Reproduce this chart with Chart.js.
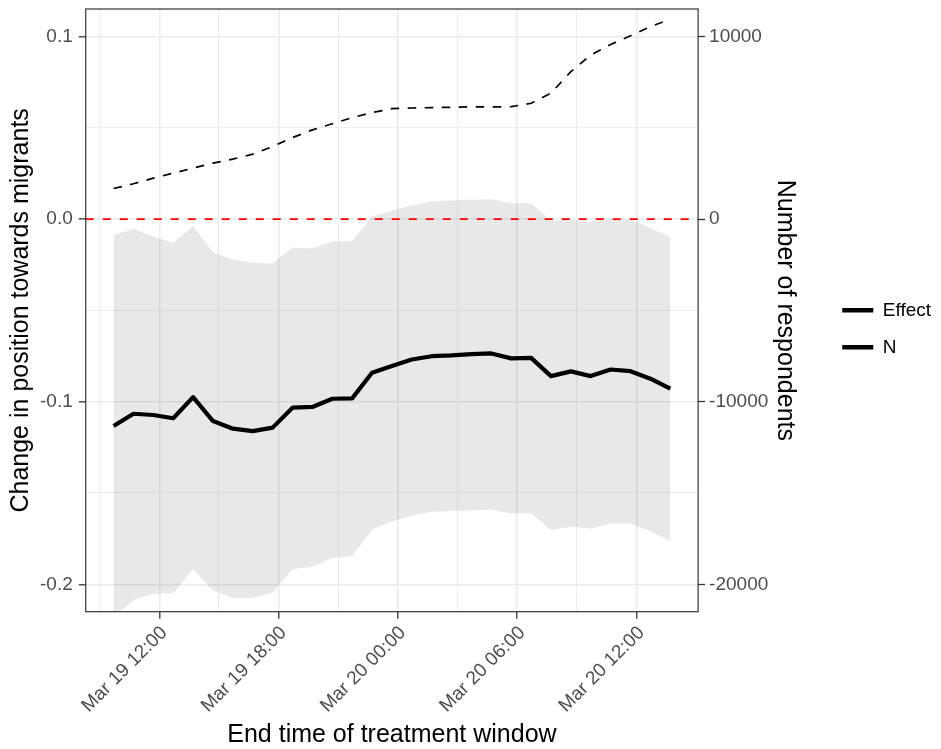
<!DOCTYPE html>
<html>
<head>
<meta charset="utf-8">
<script src="https://cdn.jsdelivr.net/npm/chart.js@4.4.0/dist/chart.umd.min.js"></script>
<style>
  html, body { margin: 0; padding: 0; background: #fff; }
</style>
</head>
<body>
<canvas id="myChart" width="941" height="749"></canvas>
<script>
// hours since Mar 19 00:00 (end of each treatment window)
const hours = [9.7, 10.7, 11.7, 12.7, 13.7, 14.7, 15.7, 16.7, 17.7, 18.7,
  19.7, 20.7, 21.7, 22.7, 23.7, 24.7, 25.7, 26.7, 27.7, 28.7,
  29.7, 30.7, 31.7, 32.7, 33.7, 34.7, 35.7, 36.7, 37.7];

const effect = [-0.1133, -0.1066, -0.1073, -0.1091, -0.0975, -0.1106, -0.1148, -0.1161, -0.1142, -0.1033,
  -0.1029, -0.0984, -0.0982, -0.0842, -0.0805, -0.0769, -0.0751, -0.0747, -0.0740, -0.0736,
  -0.0763, -0.0760, -0.0860, -0.0834, -0.0860, -0.0824, -0.0833, -0.0874, -0.0929];

const upper = [-0.0087, -0.0055, -0.0095, -0.0131, -0.0040, -0.0182, -0.0222, -0.0240, -0.0243, -0.0157,
  -0.0160, -0.0122, -0.0122, 0.0014, 0.0047, 0.0074, 0.0098, 0.0102, 0.0105, 0.0109,
  0.0087, 0.0087, -0.0009, -0.0004, -0.0015, 0.0000, -0.0004, -0.0049, -0.0098];

const lower = [-0.2179, -0.2086, -0.2051, -0.2049, -0.1918, -0.2035, -0.2075, -0.2075, -0.2046, -0.1918,
  -0.1904, -0.1856, -0.1847, -0.1700, -0.1656, -0.1625, -0.1603, -0.1599, -0.1596, -0.1590,
  -0.1612, -0.1610, -0.1702, -0.1683, -0.1696, -0.1667, -0.1669, -0.1710, -0.1763];

const respondents = [1670, 1930, 2240, 2510, 2790, 3060, 3280, 3550, 3970, 4460,
  4880, 5220, 5550, 5830, 6040, 6080, 6100, 6120, 6140, 6140,
  6150, 6340, 6890, 8070, 8980, 9560, 10030, 10530, 10950];

const refLine = 0;

const xMin = 8.3, xMax = 39.1;
const xTickHours = [12, 18, 24, 30, 36];
const xTickLabels = ['Mar 19 12:00', 'Mar 19 18:00', 'Mar 20 00:00', 'Mar 20 06:00', 'Mar 20 12:00'];
const xMinorHours = [9, 15, 21, 27, 33];

const yMin = -0.215, yMax = 0.115;
const yTicks = [-0.2, -0.1, 0, 0.1];
const yTickLabels = ['-0.2', '-0.1', '0.0', '0.1'];
const yMinor = [-0.15, -0.05, 0.05];

const nScale = 100000;
const nTicks = [-20000, -10000, 0, 10000];
const nTickLabels = ['-20000', '-10000', '0', '10000'];

const legendNames = ['Effect', 'N'];

const FONT = "'Liberation Sans', Arial, Helvetica, sans-serif";
const TICK_COLOR = '#4D4D4D';
const AXIS_COLOR = '#333333';
const GRID_COLOR = '#EBEBEB';

Chart.defaults.font.family = FONT;

const pts = (arr) => hours.map((h, i) => ({ x: h, y: arr[i] }));

const isMajor = (list, v) => list.some(t => Math.abs(t - v) < 1e-6);

const panelBorder = {
  id: 'panelBorder',
  afterDatasetsDraw(chart) {
    const { ctx, chartArea: a } = chart;
    ctx.save();
    ctx.strokeStyle = AXIS_COLOR;
    ctx.lineWidth = 1.2;
    ctx.strokeRect(a.left, a.top, a.right - a.left, a.bottom - a.top);
    ctx.restore();
  }
};

const ctx = document.getElementById('myChart').getContext('2d');
const myChart = new Chart(ctx, {
  type: 'line',
  data: {
    datasets: [
      {
        label: 'lower',
        data: pts(lower),
        borderWidth: 0,
        borderColor: 'rgba(0,0,0,0)',
        pointRadius: 0,
        fill: false,
        order: 5
      },
      {
        label: 'upper',
        data: pts(upper),
        borderWidth: 0,
        borderColor: 'rgba(0,0,0,0)',
        backgroundColor: 'rgba(0,0,0,0.09)',
        pointRadius: 0,
        fill: '-1',
        order: 4
      },
      {
        label: 'zero',
        data: [{ x: xMin, y: refLine }, { x: xMax, y: refLine }],
        borderColor: '#FF0000',
        borderWidth: 1.8,
        borderDash: [8, 9],
        pointRadius: 0,
        order: 3
      },
      {
        label: 'N',
        data: pts(respondents),
        yAxisID: 'y2',
        borderColor: '#000',
        borderWidth: 1.7,
        borderDash: [8.5, 8.5],
        pointRadius: 0,
        order: 2
      },
      {
        label: 'Effect',
        data: pts(effect),
        borderColor: '#000',
        borderWidth: 4.2,
        borderJoinStyle: 'round',
        pointRadius: 0,
        order: 1
      }
    ]
  },
  options: {
    responsive: false,
    animation: false,
    events: [],
    layout: { padding: { top: 9, left: 5, right: 0, bottom: 0 } },
    plugins: {
      tooltip: { enabled: false },
      legend: {
        position: 'right',
        fullSize: false,
        title: { display: true, text: '', font: { size: 10 }, padding: 12.5 },
        labels: {
          boxWidth: 31,
          boxHeight: 4.5,
          padding: 18,
          color: '#000',
          font: { size: 19 },
          generateLabels: () => legendNames.map(name => ({
            text: name,
            fillStyle: '#000',
            strokeStyle: '#000',
            fontColor: '#000',
            lineWidth: 0,
            hidden: false
          }))
        }
      }
    },
    scales: {
      x: {
        type: 'linear',
        min: xMin,
        max: xMax,
        afterBuildTicks: s => { s.ticks = xMinorHours.concat(xTickHours).sort((a, b) => a - b).map(v => ({ value: v })); },
        afterFit: s => { s.paddingLeft = 0; s.paddingRight = 0; },
        ticks: {
          autoSkip: false,
          maxRotation: 45,
          minRotation: 45,
          padding: 3,
          labelOffset: 5,
          color: TICK_COLOR,
          font: { size: 19 },
          callback: v => {
            const i = xTickHours.findIndex(t => Math.abs(t - v) < 1e-6);
            return i >= 0 ? xTickLabels[i] : '';
          }
        },
        grid: {
          color: GRID_COLOR,
          lineWidth: c => (c.tick && isMajor(xTickHours, c.tick.value)) ? 1.6 : 0.9,
          tickLength: 7,
          tickWidth: 1.3,
          tickColor: c => (c.tick && isMajor(xTickHours, c.tick.value)) ? AXIS_COLOR : 'rgba(0,0,0,0)'
        },
        border: { display: false },
        title: {
          display: true,
          text: 'End time of treatment window',
          color: '#000',
          font: { size: 25, lineHeight: 1 },
          padding: { top: 3, bottom: 1 }
        }
      },
      y: {
        type: 'linear',
        position: 'left',
        min: yMin,
        max: yMax,
        afterBuildTicks: s => { s.ticks = yMinor.concat(yTicks).sort((a, b) => a - b).map(v => ({ value: v })); },
        afterFit: s => { s.paddingTop = 0; s.paddingBottom = 0; },
        ticks: {
          padding: 6,
          color: TICK_COLOR,
          font: { size: 19 },
          callback: v => {
            const i = yTicks.findIndex(t => Math.abs(t - v) < 1e-6);
            return i >= 0 ? yTickLabels[i] : '';
          }
        },
        grid: {
          color: GRID_COLOR,
          lineWidth: c => (c.tick && isMajor(yTicks, c.tick.value)) ? 1.6 : 0.9,
          tickLength: 7,
          tickWidth: 1.3,
          tickColor: c => (c.tick && isMajor(yTicks, c.tick.value)) ? AXIS_COLOR : 'rgba(0,0,0,0)'
        },
        border: { display: false },
        title: {
          display: true,
          text: 'Change in position towards migrants',
          color: '#000',
          font: { size: 25, lineHeight: 1 },
          padding: { top: 4, bottom: 0 }
        }
      },
      y2: {
        type: 'linear',
        position: 'right',
        min: yMin * nScale,
        max: yMax * nScale,
        afterBuildTicks: s => { s.ticks = nTicks.map(v => ({ value: v })); },
        afterFit: s => { s.paddingTop = 0; s.paddingBottom = 0; },
        ticks: {
          padding: 4,
          color: TICK_COLOR,
          font: { size: 19 },
          callback: v => {
            const i = nTicks.indexOf(v);
            return i >= 0 ? nTickLabels[i] : '';
          }
        },
        grid: {
          drawOnChartArea: false,
          tickLength: 7,
          tickWidth: 1.3,
          tickColor: AXIS_COLOR
        },
        border: { display: false },
        title: {
          display: true,
          text: 'Number of respondents',
          color: '#000',
          font: { size: 25, lineHeight: 1 },
          padding: { top: 27, bottom: 0 }
        }
      }
    }
  },
  plugins: [panelBorder]
});
</script>
</body>
</html>
